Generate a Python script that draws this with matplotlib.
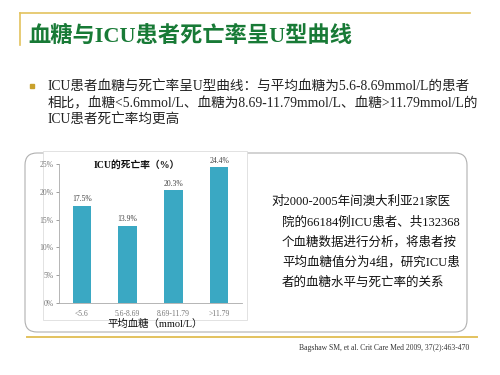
import matplotlib
matplotlib.use("Agg")
import matplotlib.pyplot as plt
from matplotlib.patches import FancyBboxPatch, Rectangle

# data
categories = ["<5.6", "5.6-8.69", "8.69-11.79", ">11.79"]
mortality = [17.5, 13.9, 20.3, 24.4]
y_ticks = [0, 5, 10, 15, 20, 25]

title = "血糖与ICU患者死亡率呈U型曲线"
bullet_lines = [
    "ICU患者血糖与死亡率呈U型曲线：与平均血糖为5.6-8.69mmol/L的患者",
    "相比，血糖<5.6mmol/L、血糖为8.69-11.79mmol/L、血糖>11.79mmol/L的",
    "ICU患者死亡率均更高",
]
note_lines = [
    "对2000-2005年间澳大利亚21家医",
    "院的66184例ICU患者、共132368",
    "个血糖数据进行分析，将患者按",
    "平均血糖值分为4组，研究ICU患",
    "者的血糖水平与死亡率的关系",
]
chart_title = "ICU的死亡率（%）"
x_label = "平均血糖（mmol/L）"
citation = "Bagshaw SM, et al. Crit Care Med 2009, 37(2):463-470"

fonts = ["Liberation Serif", "Noto Sans CJK SC", "DejaVu Sans"]
plt.rcParams["font.family"] = fonts

fig = plt.figure(figsize=(5, 3.75), dpi=100)

# overlay in pixel coords
bg = fig.add_axes([0, 0, 1, 1], zorder=0)
bg.set_xlim(0, 500)
bg.set_ylim(375, 0)
bg.axis("off")

gold = "#e3c25e"
bg.plot([20, 470], [13, 13], color=gold, lw=1.2)
bg.plot([20, 20], [13, 45], color=gold, lw=1.2)
bg.text(28, 36, title, fontsize=16, fontweight="bold", color="#187a36",
        va="center", ha="left")

bg.add_patch(Rectangle((29.5, 83.5), 4.5, 4.5, color="#c9a12c"))
for i, line in enumerate(bullet_lines):
    bg.text(48, 87 + i * 16.7, line, fontsize=9.8, color="#222222",
            va="center", ha="left")

# rounded box
bg.add_patch(FancyBboxPatch((37, 165), 418, 155, boxstyle="round,pad=12",
                            fc="none", ec="#b0b0b0", lw=0.8))
bg.plot([27, 477], [337, 337], color=gold, lw=1.4)
# chart image frame
bg.add_patch(Rectangle((43, 151), 204, 169, fc="white", ec="#dddddd", lw=0.6))

for i, line in enumerate(note_lines):
    x = 271 if i == 0 else 282
    bg.text(x, 202 + i * 20.3, line, fontsize=9, color="#111111",
            va="center", ha="left")

bg.text(137, 165, chart_title, fontsize=7, fontweight="bold", color="#111111",
        va="center", ha="center")
bg.text(155, 324, x_label, fontsize=7.5, color="#111111",
        va="center", ha="center")
bg.text(469, 348, citation, fontsize=5.5, color="#333333",
        va="center", ha="right")

# bar chart
ax = fig.add_axes([59 / 500, 1 - 303 / 375, 183 / 500, 139 / 375], zorder=2)
ax.patch.set_alpha(0)
x = range(len(categories))
bars = ax.bar(x, mortality, width=0.4, color="#3aa8c3")
ax.set_xlim(-0.5, len(categories) - 0.5)
ax.set_ylim(0, 25)
ax.set_yticks(y_ticks)
ax.set_yticklabels([f"{t}%" for t in y_ticks])
ax.set_xticks(list(x))
ax.set_xticklabels(categories)
ax.tick_params(labelsize=5.5, colors="#777777", length=2, width=0.5, pad=2)
ax.tick_params(axis="x", length=0, pad=5)
for s in ["top", "right"]:
    ax.spines[s].set_visible(False)
for s in ["left", "bottom"]:
    ax.spines[s].set_color("#aaaaaa")
    ax.spines[s].set_linewidth(0.6)
for b, v in zip(bars, mortality):
    ax.text(b.get_x() + b.get_width() / 2, v + 0.4, f"{v}%", fontsize=5.5,
            color="#444444", ha="center", va="bottom")

fig.savefig("out.png", dpi=100)
